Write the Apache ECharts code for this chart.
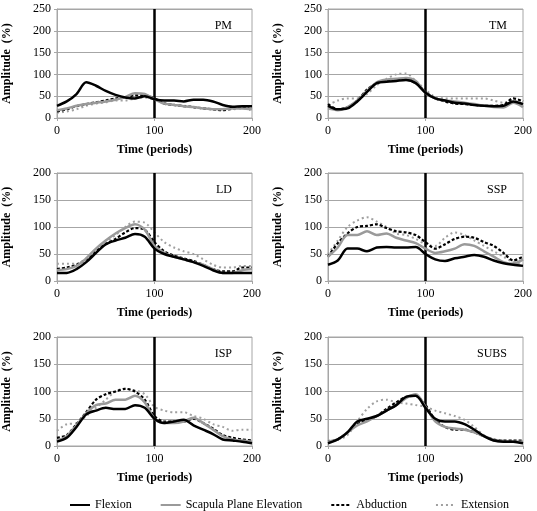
<!DOCTYPE html>
<html>
<head>
<meta charset="utf-8">
<script src="https://cdn.jsdelivr.net/npm/echarts@6/dist/echarts.min.js"></script>
<style>
  html, body { margin: 0; padding: 0; background: #fff; }
  #chart { width: 537px; height: 511px; }
</style>
</head>
<body>
<div id="chart"></div>
<script>
const periods = [0, 10, 20, 30, 40, 50, 60, 70, 80, 90, 100, 110, 120, 130, 140, 150, 160, 170, 180, 190, 200]
const seriesNames = ['Flexion', 'Scapula Plane Elevation', 'Abduction', 'Extension']
const muscles = ['PM', 'TM', 'LD', 'SSP', 'ISP', 'SUBS']
const yMax = [250, 250, 200, 200, 200, 200]

// PM
const pmFlexion = [28, 38, 55, 82, 74, 62, 53, 47, 45, 50, 43, 40, 40, 38, 42, 42, 38, 30, 26, 27, 27]
const pmScapula = [18, 22, 28, 32, 35, 38, 42, 48, 57, 55, 43, 33, 30, 27, 25, 22, 20, 20, 22, 22, 20]
const pmAbduction = [15, 20, 27, 32, 36, 40, 45, 47, 52, 52, 45, 33, 30, 27, 25, 22, 20, 18, 22, 25, 18]
const pmExtension = [12, 15, 20, 28, 33, 36, 40, 40, 45, 47, 42, 35, 30, 28, 25, 22, 20, 18, 20, 22, 20]
// TM
const tmFlexion = [28, 20, 22, 38, 60, 80, 83, 85, 87, 80, 58, 45, 40, 35, 33, 30, 28, 27, 28, 38, 32]
const tmScapula = [22, 18, 25, 40, 62, 82, 88, 90, 92, 85, 58, 45, 40, 38, 35, 32, 28, 25, 24, 35, 25]
const tmAbduction = [32, 20, 25, 40, 65, 80, 85, 88, 88, 80, 60, 45, 38, 33, 32, 30, 28, 28, 30, 45, 38]
const tmExtension = [30, 40, 45, 45, 55, 75, 90, 100, 102, 85, 65, 48, 45, 45, 45, 45, 45, 40, 35, 40, 30]
// LD
const ldFlexion = [15, 15, 22, 35, 52, 68, 75, 80, 87, 82, 60, 50, 45, 40, 35, 28, 20, 15, 15, 15, 15]
const ldScapula = [20, 22, 28, 42, 60, 75, 88, 98, 105, 95, 65, 52, 45, 40, 35, 30, 22, 15, 15, 20, 22]
const ldAbduction = [22, 25, 30, 40, 55, 68, 78, 90, 98, 95, 72, 55, 47, 42, 37, 30, 22, 18, 18, 25, 25]
const ldExtension = [32, 32, 32, 42, 58, 72, 85, 100, 110, 108, 90, 72, 62, 55, 50, 40, 30, 25, 25, 28, 28]
// SSP
const sspFlexion = [30, 38, 60, 60, 55, 62, 63, 62, 62, 63, 50, 40, 37, 42, 45, 48, 45, 38, 33, 30, 28]
const sspScapula = [45, 62, 85, 85, 92, 85, 88, 80, 75, 70, 60, 52, 55, 60, 68, 65, 55, 45, 35, 32, 40]
const sspAbduction = [45, 70, 88, 100, 102, 105, 98, 92, 90, 85, 72, 60, 68, 78, 82, 80, 72, 65, 52, 38, 45]
const sspExtension = [50, 75, 100, 112, 118, 110, 100, 88, 85, 78, 68, 65, 80, 90, 85, 75, 65, 55, 45, 35, 30]
// ISP
const ispFlexion = [8, 15, 35, 58, 65, 70, 68, 68, 75, 70, 50, 42, 45, 48, 38, 30, 22, 12, 10, 8, 5]
const ispScapula = [10, 18, 38, 60, 75, 78, 85, 85, 92, 80, 50, 42, 42, 45, 52, 42, 30, 18, 12, 10, 8]
const ispAbduction = [15, 20, 40, 62, 85, 95, 100, 105, 100, 85, 55, 45, 45, 45, 50, 42, 32, 20, 15, 12, 10]
const ispExtension = [28, 40, 42, 55, 70, 85, 100, 105, 102, 95, 72, 65, 62, 62, 55, 50, 40, 35, 28, 30, 30]
// SUBS
const subsFlexion = [5, 12, 25, 45, 50, 55, 65, 75, 90, 92, 70, 50, 45, 45, 40, 30, 18, 10, 8, 8, 5]
const subsScapula = [8, 12, 25, 38, 45, 55, 65, 75, 88, 95, 72, 45, 35, 32, 30, 25, 18, 10, 8, 8, 8]
const subsAbduction = [8, 12, 25, 40, 48, 55, 68, 80, 90, 92, 75, 48, 35, 30, 30, 25, 18, 12, 10, 10, 10]
const subsExtension = [10, 12, 20, 45, 68, 82, 85, 80, 78, 75, 72, 65, 60, 55, 48, 35, 20, 12, 10, 8, 8]

const panelData = [
  [pmFlexion, pmScapula, pmAbduction, pmExtension],
  [tmFlexion, tmScapula, tmAbduction, tmExtension],
  [ldFlexion, ldScapula, ldAbduction, ldExtension],
  [sspFlexion, sspScapula, sspAbduction, sspExtension],
  [ispFlexion, ispScapula, ispAbduction, ispExtension],
  [subsFlexion, subsScapula, subsAbduction, subsExtension],
]

const font = "'Liberation Serif', 'Times New Roman', serif"
const gridColor = '#a6a6a6'
const lineStyles = [
  { color: '#000', width: 2.5, type: 'solid' },
  { color: '#9a9a9a', width: 2.5, type: 'solid' },
  { color: '#000', width: 2.2, type: [3, 2] },
  { color: '#a0a0a0', width: 2, type: [2, 3] },
]

const lefts = [57, 328]
const tops = [9, 173, 337]
const heights = [109, 108, 109]

const chart = echarts.init(document.getElementById('chart'))

const grids = []
const xAxes = []
const yAxes = []
const titles = []
const series = []

muscles.forEach((m, i) => {
  const col = i % 2
  const row = Math.floor(i / 2)
  grids.push({
    left: lefts[col], top: tops[row], width: 195, height: heights[row],
    show: true, borderColor: gridColor, borderWidth: 1, containLabel: false,
  })
  xAxes.push({
    gridIndex: i, type: 'value', min: 0, max: 200, interval: 100,
    name: 'Time (periods)', nameLocation: 'middle', nameGap: 26,
    nameTextStyle: { fontFamily: font, fontSize: 12, fontWeight: 'bold', color: '#000' },
    axisLine: { show: true, lineStyle: { color: gridColor } },
    axisTick: { show: true, length: 3, lineStyle: { color: gridColor } },
    axisLabel: { fontFamily: font, fontSize: 12, color: '#000', margin: 7 },
    splitLine: { show: false },
  })
  yAxes.push({
    gridIndex: i, type: 'value', min: 0, max: yMax[i], interval: 50,
    name: 'Amplitude  (%)', nameLocation: 'middle', nameGap: 44, nameRotate: 90,
    nameTextStyle: { fontFamily: font, fontSize: 12, fontWeight: 'bold', color: '#000' },
    axisLine: { show: true, lineStyle: { color: gridColor } },
    axisTick: { show: true, length: 3, lineStyle: { color: gridColor } },
    axisLabel: { fontFamily: font, fontSize: 12, color: '#000', margin: 6 },
    splitLine: { show: true, lineStyle: { color: gridColor, width: 1 } },
  })
  titles.push({
    text: m,
    right: col === 0 ? 300 : 25,
    top: tops[row] + 6,
    textStyle: { fontFamily: font, fontSize: 12, fontWeight: 'normal', color: '#000' },
  })
  // draw in reverse so flexion is on top
  for (let s = 3; s >= 0; s--) {
    const vals = panelData[i][s]
    series.push({
      name: seriesNames[s],
      type: 'line',
      xAxisIndex: i,
      yAxisIndex: i,
      data: periods.map((p, k) => [p, vals[k]]),
      symbol: 'none',
      showSymbol: false,
      smooth: 0.3,
      lineStyle: lineStyles[s],
      itemStyle: { color: lineStyles[s].color },
      z: 3 + (3 - s),
      markLine: s === 0 ? {
        silent: true,
        symbol: 'none',
        label: { show: false },
        lineStyle: { color: '#000', width: 2.5, type: 'solid' },
        data: [{ xAxis: 100 }],
      } : undefined,
    })
  }
})

chart.setOption({
  animation: false,
  backgroundColor: '#fff',
  title: titles,
  grid: grids,
  xAxis: xAxes,
  yAxis: yAxes,
  legend: {
    data: seriesNames,
    left: 64,
    top: 494,
    itemWidth: 20,
    itemHeight: 10,
    itemGap: 28,
    itemStyle: { opacity: 0 },
    textStyle: { fontFamily: font, fontSize: 12, color: '#000' },
  },
  series: series,
})
</script>
</body>
</html>
